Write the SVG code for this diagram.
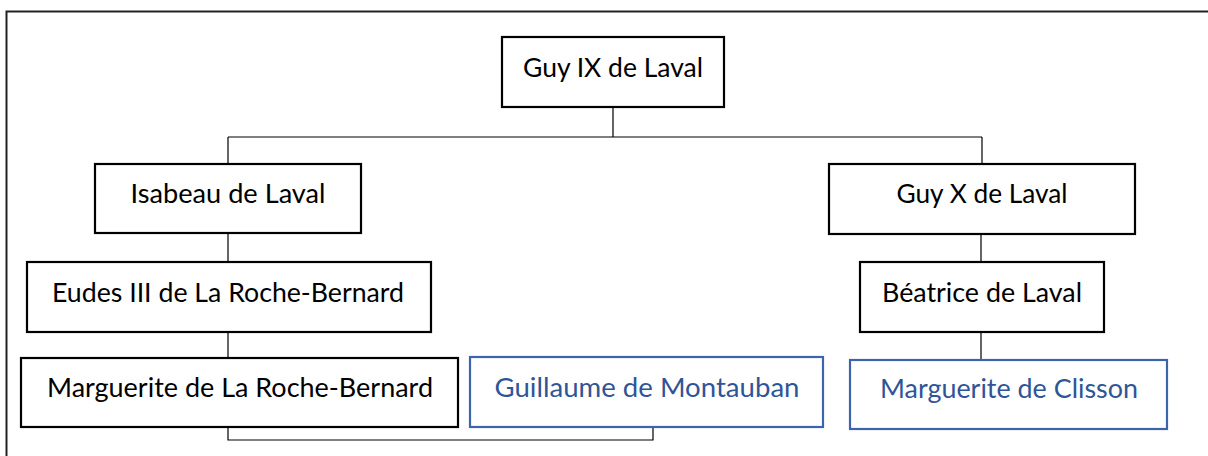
<svg xmlns="http://www.w3.org/2000/svg" width="1208" height="456" viewBox="0 0 1208 456">
<style>
.box{fill:#fff;stroke:#000;stroke-width:2.2}
.bbox{fill:#fff;stroke:#3D63AA;stroke-width:2.2}
.t{font-family:Lato,"Liberation Sans",sans-serif;font-size:27.5px;fill:#000;text-anchor:middle}
.bt{font-family:Lato,"Liberation Sans",sans-serif;font-size:27.5px;fill:#2F5597;text-anchor:middle}
.c{fill:none;stroke:#000;stroke-width:1.2}
</style>
<rect x="0" y="0" width="1208" height="456" fill="#fff"/>
<rect id="frame" x="6.5" y="11.5" width="1210" height="460" fill="none" stroke="#222" stroke-width="2"/>
<g id="connectors">
<path class="c" d="M613 107V137M228 137H982M228 137V164M982 137V164"/>
<path class="c" d="M228 233V262M228 332V358"/>
<path class="c" d="M981 234V262M981 332V360"/>
<path class="c" d="M228 427V440H653V427"/>
</g>
<g id="guy9"><rect class="box" x="502" y="37" width="222" height="70"/><text class="t" x="613" y="77" textLength="180" lengthAdjust="spacingAndGlyphs">Guy IX de Laval</text></g>
<g id="isabeau"><rect class="box" x="95" y="164" width="266" height="69"/><text class="t" x="228" y="203" textLength="195" lengthAdjust="spacingAndGlyphs">Isabeau de Laval</text></g>
<g id="guy10"><rect class="box" x="829" y="164" width="306" height="70"/><text class="t" x="982" y="203" textLength="171" lengthAdjust="spacingAndGlyphs">Guy X de Laval</text></g>
<g id="eudes"><rect class="box" x="27" y="262" width="404" height="70"/><text class="t" x="228" y="302" textLength="352" lengthAdjust="spacingAndGlyphs">Eudes III de La Roche-Bernard</text></g>
<g id="beatrice"><rect class="box" x="860" y="262" width="244" height="70"/><text class="t" x="982" y="302" textLength="200" lengthAdjust="spacingAndGlyphs">Béatrice de Laval</text></g>
<g id="marguerite-rb"><rect class="box" x="21" y="358" width="437" height="69"/><text class="t" x="240" y="397" textLength="386" lengthAdjust="spacingAndGlyphs">Marguerite de La Roche-Bernard</text></g>
<g id="guillaume"><rect class="bbox" x="470" y="357" width="353" height="70"/><text class="bt" x="647" y="397" textLength="305" lengthAdjust="spacingAndGlyphs">Guillaume de Montauban</text></g>
<g id="clisson"><rect class="bbox" x="850" y="360" width="317" height="69"/><text class="bt" x="1009" y="398" textLength="258" lengthAdjust="spacingAndGlyphs">Marguerite de Clisson</text></g>
</svg>
